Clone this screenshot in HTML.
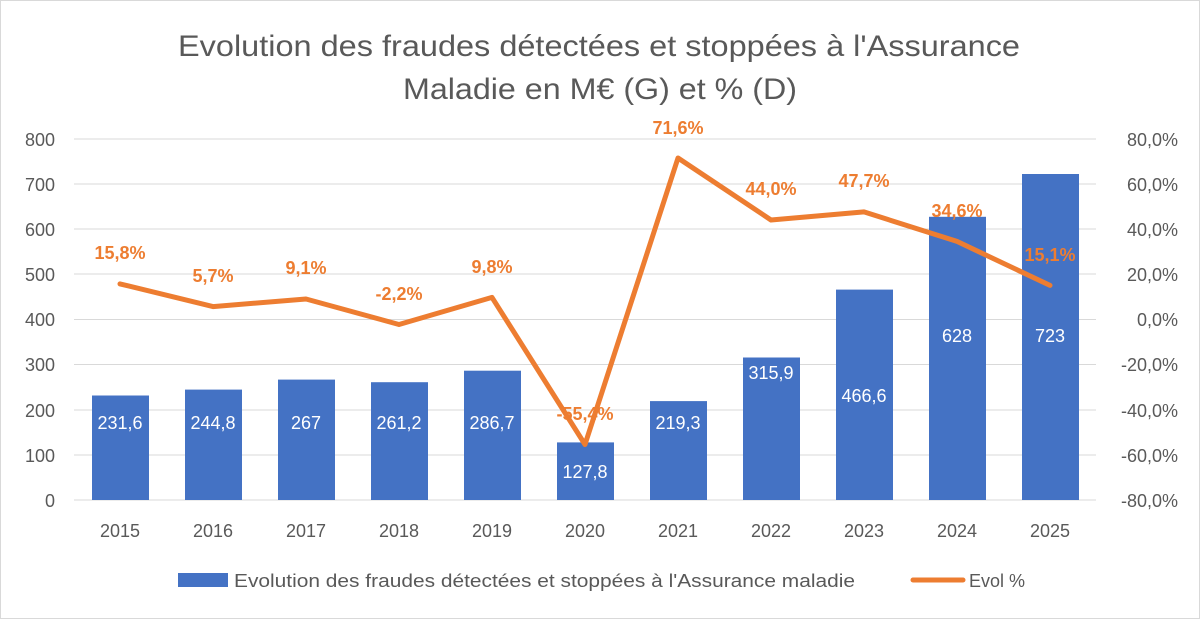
<!DOCTYPE html>
<html><head><meta charset="utf-8"><style>
body{margin:0;background:#fff;}
svg{display:block;font-family:"Liberation Sans",Calibri,sans-serif;}
</style></head><body>
<svg width="1200" height="619" viewBox="0 0 1200 619">
<rect x="0.5" y="0.5" width="1199" height="618" fill="#fff" stroke="#d9d9d9"/>
<g fill="#595959" font-size="30">
<text x="178" y="56" textLength="842" lengthAdjust="spacingAndGlyphs">Evolution des fraudes détectées et stoppées à l'Assurance</text>
<text x="403" y="99" textLength="394" lengthAdjust="spacingAndGlyphs">Maladie en M€ (G) et % (D)</text>
</g>
<g stroke="#d9d9d9" stroke-width="1">
<line x1="74" x2="1096" y1="139" y2="139"/><line x1="74" x2="1096" y1="184" y2="184"/>
<line x1="74" x2="1096" y1="229" y2="229"/><line x1="74" x2="1096" y1="274" y2="274"/>
<line x1="74" x2="1096" y1="319.5" y2="319.5"/><line x1="74" x2="1096" y1="364.5" y2="364.5"/>
<line x1="74" x2="1096" y1="410" y2="410"/><line x1="74" x2="1096" y1="455" y2="455"/>
<line x1="74" x2="1096" y1="500" y2="500"/>
</g>
<g fill="#595959" font-size="18" text-anchor="end">
<text x="55" y="146">800</text><text x="55" y="191">700</text><text x="55" y="236">600</text>
<text x="55" y="281">500</text><text x="55" y="326">400</text><text x="55" y="371">300</text>
<text x="55" y="417">200</text><text x="55" y="462">100</text><text x="55" y="507">0</text>
</g>
<g fill="#595959" font-size="18" text-anchor="end">
<text x="1178" y="146">80,0%</text><text x="1178" y="191">60,0%</text><text x="1178" y="236">40,0%</text>
<text x="1178" y="281">20,0%</text><text x="1178" y="326">0,0%</text><text x="1178" y="371">-20,0%</text>
<text x="1178" y="417">-40,0%</text><text x="1178" y="462">-60,0%</text><text x="1178" y="507">-80,0%</text>
</g>
<g fill="#4472c4">
<rect x="92" y="395.5" width="57" height="104.5"/>
<rect x="185" y="389.6" width="57" height="110.4"/>
<rect x="278" y="379.6" width="57" height="120.4"/>
<rect x="371" y="382.2" width="57" height="117.8"/>
<rect x="464" y="370.7" width="57" height="129.3"/>
<rect x="557" y="442.4" width="57" height="57.6"/>
<rect x="650" y="401.1" width="57" height="98.9"/>
<rect x="743" y="357.5" width="57" height="142.5"/>
<rect x="836" y="289.6" width="57" height="210.4"/>
<rect x="929" y="216.8" width="57" height="283.2"/>
<rect x="1022" y="174" width="57" height="326"/>
</g>
<g fill="#fff" font-size="18" text-anchor="middle">
<text x="120" y="429">231,6</text><text x="213" y="429">244,8</text><text x="306" y="429">267</text>
<text x="399" y="429">261,2</text><text x="492" y="429">286,7</text><text x="585" y="478">127,8</text>
<text x="678" y="429">219,3</text><text x="771" y="379">315,9</text><text x="864" y="402">466,6</text>
<text x="957" y="342">628</text><text x="1050" y="342">723</text>
</g>
<polyline fill="none" stroke="#ed7d31" stroke-width="5" stroke-linejoin="round" stroke-linecap="round"
points="120,283.9 213,306.6 306,299 399,324.5 492,297.4 585,444.5 678,158 771,220 864,211.9 957,241.4 1050,285.4"/>
<g fill="#ed7d31" font-size="18" font-weight="bold" text-anchor="middle">
<text x="120" y="259">15,8%</text><text x="213" y="282">5,7%</text><text x="306" y="274">9,1%</text>
<text x="399" y="300">-2,2%</text><text x="492" y="273">9,8%</text><text x="585" y="420">-55,4%</text>
<text x="678" y="134">71,6%</text><text x="771" y="195">44,0%</text><text x="864" y="187">47,7%</text>
<text x="957" y="217">34,6%</text><text x="1050" y="261">15,1%</text>
</g>
<g fill="#595959" font-size="18" text-anchor="middle">
<text x="120" y="537">2015</text><text x="213" y="537">2016</text><text x="306" y="537">2017</text>
<text x="399" y="537">2018</text><text x="492" y="537">2019</text><text x="585" y="537">2020</text>
<text x="678" y="537">2021</text><text x="771" y="537">2022</text><text x="864" y="537">2023</text>
<text x="957" y="537">2024</text><text x="1050" y="537">2025</text>
</g>
<rect x="178" y="573" width="50" height="14" fill="#4472c4"/>
<text x="234" y="587" fill="#595959" font-size="18" textLength="621" lengthAdjust="spacingAndGlyphs">Evolution des fraudes détectées et stoppées à l'Assurance maladie</text>
<line x1="913" x2="963" y1="580" y2="580" stroke="#ed7d31" stroke-width="5" stroke-linecap="round"/>
<text x="969" y="587" fill="#595959" font-size="18">Evol %</text>
</svg>
</body></html>
